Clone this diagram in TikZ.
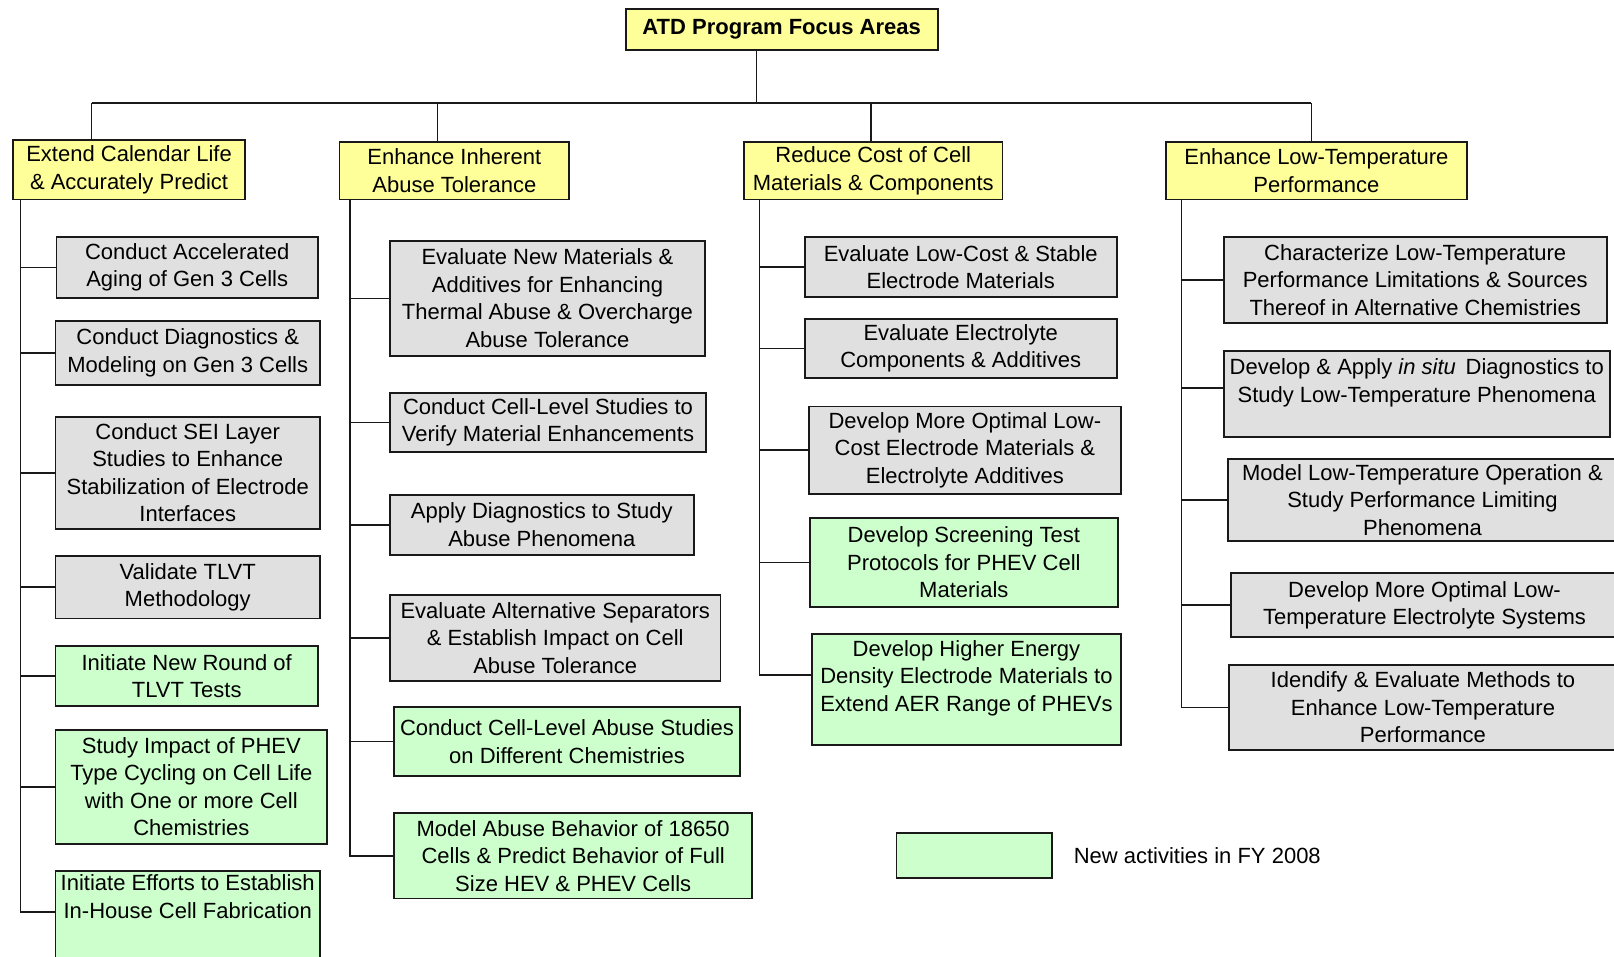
\documentclass[tikz,border=0pt]{standalone}
\usepackage{fontspec}
\setmainfont{Liberation Sans}
\usepackage{xcolor}
\usepackage{tikz}
\usetikzlibrary{positioning}
\definecolor{areayellow}{HTML}{FFFF99}
\definecolor{taskgray}{HTML}{E0E0E0}
\definecolor{newgreen}{HTML}{CCFFCC}
\newlength{\px}
\setlength{\px}{0.51465pt}
\tikzset{
  box/.style={draw=black!90, line width=0.9pt, anchor=north west, align=center,
    inner sep=0pt, font=\fontsize{11}{13.75}\selectfont},
  sz/.style 2 args={minimum width=#1*\px, minimum height=#2*\px},
  areabox/.style={box, fill=areayellow},
  taskbox/.style={box, fill=taskgray},
  newbox/.style={box, fill=newgreen},
  link/.style={line width=0.8pt, draw=black!90}
}

\begin{document}
\begin{tikzpicture}[x=0.51465pt, y=-0.51465pt]
\useasboundingbox (0,0) rectangle (1568,929);
\clip (0,0) rectangle (1568,929);

% program and focus areas
\node[areabox, sz={303}{40}] (root) at (607,8) {\textbf{ATD Program Focus Areas}};
\node[areabox, sz={225}{58}] (cal) at (12,135) {Extend Calendar Life\\ \& Accurately Predict};
\node[areabox, sz={223}{56}] (abuse) at (329,137) {Enhance Inherent\\ Abuse Tolerance};
\node[areabox, sz={251}{56}] (cost) at (722,137) {Reduce Cost of Cell\\ Materials \& Components};
\node[areabox, sz={292}{56}] (lowt) at (1132,137) {Enhance Low-Temperature\\ Performance};

% calendar life tasks
\node[taskbox, sz={254}{60}] (c1a) at (54,229) {Conduct Accelerated\\ Aging of Gen 3 Cells};
\node[taskbox, sz={257}{62}] (c1b) at (53,311) {Conduct Diagnostics \&\\ Modeling on Gen 3 Cells};
\node[taskbox, sz={257}{109}] (c1c) at (53,404) {Conduct SEI Layer\\ Studies to Enhance\\ Stabilization of Electrode\\ Interfaces};
\node[taskbox, sz={257}{61}] (c1d) at (53,539) {Validate TLVT\\ Methodology};
\node[newbox, sz={255}{58}] (c1e) at (53,627) {Initiate New Round of\\ TLVT Tests};
\node[newbox, sz={264}{111}] (c1f) at (53,708) {Study Impact of PHEV\\ Type Cycling on Cell Life\\ with One or more Cell\\ Chemistries};
\node[newbox, sz={257}{104}] (c1g) at (53,845) {Initiate Efforts to Establish\\ In-House Cell Fabrication\\ ~\\ ~};

% abuse tolerance tasks
\node[taskbox, sz={306}{112}] (c2a) at (378,233) {Evaluate New Materials \&\\ Additives for Enhancing\\ Thermal Abuse \& Overcharge\\ Abuse Tolerance};
\node[taskbox, sz={307}{57}] (c2b) at (378,381) {Conduct Cell-Level Studies to\\ Verify Material Enhancements};
\node[taskbox, sz={295}{58}] (c2c) at (378,480) {Apply Diagnostics to Study\\ Abuse Phenomena};
\node[taskbox, sz={321}{84}] (c2d) at (378,577) {Evaluate Alternative Separators\\ \& Establish Impact on Cell\\ Abuse Tolerance};
\node[newbox, sz={336}{67}] (c2e) at (382,686) {Conduct Cell-Level Abuse Studies\\ on Different Chemistries};
\node[newbox, sz={348}{83}] (c2f) at (382,789) {Model Abuse Behavior of 18650\\ Cells \& Predict Behavior of Full\\ Size HEV \& PHEV Cells};

% cost tasks
\node[taskbox, sz={303}{59}] (c3a) at (781,229) {Evaluate Low-Cost \& Stable\\ Electrode Materials};
\node[taskbox, sz={303}{57}] (c3b) at (781,309) {Evaluate Electrolyte\\ Components \& Additives};
\node[taskbox, sz={303}{85}] (c3c) at (785,394) {Develop More Optimal Low-\\ Cost Electrode Materials \&\\ Electrolyte Additives};
\node[newbox, sz={299}{87}] (c3d) at (786,502) {Develop Screening Test\\ Protocols for PHEV Cell\\ Materials};
\node[newbox, sz={300}{108}] (c3e) at (788,615) {Develop Higher Energy\\ Density Electrode Materials to\\ Extend AER Range of PHEVs\\ ~};

% low-temperature tasks
\node[taskbox, sz={372}{84}] (c4a) at (1188,229) {Characterize Low-Temperature\\ Performance Limitations \& Sources\\ Thereof in Alternative Chemistries};
\node[taskbox, sz={375}{84}] (c4b) at (1188,340) {Develop \& Apply \textit{in situ}\, Diagnostics to\\ Study Low-Temperature Phenomena\\ ~};
\node[taskbox, sz={378}{80}] (c4c) at (1192,445) {Model Low-Temperature Operation \&\\ Study Performance Limiting\\ Phenomena};
\node[taskbox, sz={376}{62}] (c4d) at (1195,556) {Develop More Optimal Low-\\ Temperature Electrolyte Systems};
\node[taskbox, sz={377}{83}] (c4e) at (1193,645) {Idendify \& Evaluate Methods to\\ Enhance Low-Temperature\\ Performance};

% legend
\node[newbox, sz={151}{44}] (key) at (870,808) {};
\node[font=\fontsize{11}{13.75}\selectfont, anchor=west, inner sep=0pt, right=20*\px of key] (keytext) {New activities in FY 2008};

% tree connectors
\coordinate (d0) at (735,100);
\coordinate (d1) at (89,100);
\coordinate (d2) at (425,100);
\coordinate (d3) at (846,100);
\coordinate (d4) at (1274,100);
\draw[link] (d0 |- root.south) -- (d0);
\draw[link] (d1) -- (d4);
\foreach \d/\a in {d1/cal, d2/abuse, d3/cost, d4/lowt}
  \draw[link] (\d) -- (\d |- \a.north);

\coordinate (s1) at (20,0);
\coordinate (s2) at (340,0);
\coordinate (s3) at (738,0);
\coordinate (s4) at (1148,0);
\coordinate (c1gin) at (c1g.west |- 0,886);
\coordinate (c3ein) at (c3e.west |- 0,656);
\coordinate (c4bin) at (c4b.west |- 0,377);

\draw[link] (s1 |- cal.south) |- (c1gin);
\foreach \n in {c1a,c1b,c1c,c1d,c1e,c1f}
  \draw[link] (s1 |- \n.west) -- (\n.west);

\draw[link] (s2 |- abuse.south) |- (c2f.west);
\foreach \n in {c2a,c2b,c2c,c2d,c2e}
  \draw[link] (s2 |- \n.west) -- (\n.west);

\draw[link] (s3 |- cost.south) |- (c3ein);
\foreach \n in {c3a,c3b,c3c,c3d}
  \draw[link] (s3 |- \n.west) -- (\n.west);

\draw[link] (s4 |- lowt.south) |- (c4e.west);
\draw[link] (s4 |- c4bin) -- (c4bin);
\foreach \n in {c4a,c4c,c4d}
  \draw[link] (s4 |- \n.west) -- (\n.west);
\end{tikzpicture}
\end{document}
